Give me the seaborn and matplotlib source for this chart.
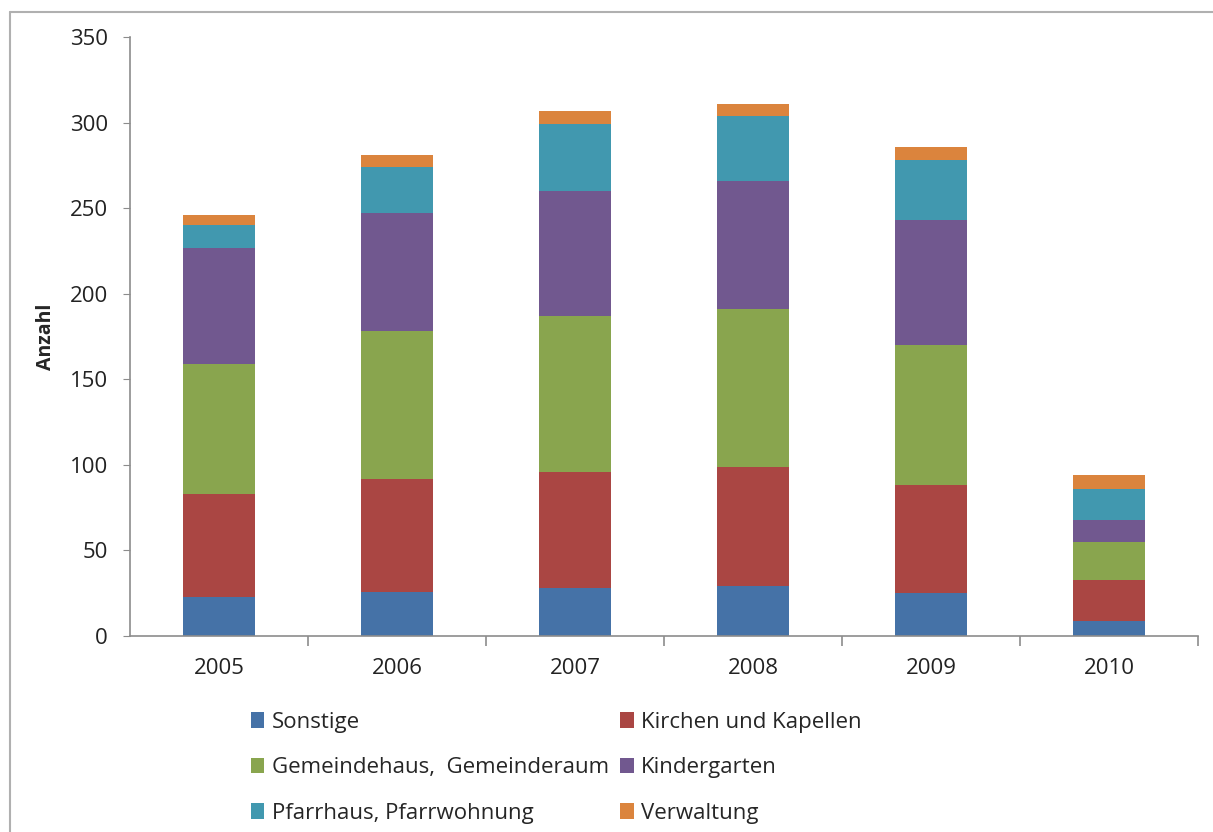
import numpy as np
import pandas as pd
import matplotlib
matplotlib.use("Agg")
import matplotlib.pyplot as plt
from matplotlib.patches import Patch
from matplotlib.lines import Line2D
import seaborn as sns

# Daten
years = ["2005", "2006", "2007", "2008", "2009", "2010"]
sonstige = [23, 26, 28, 29, 25, 9]
kirchen = [60, 66, 68, 70, 63, 24]
gemeinde = [76, 86, 91, 92, 82, 22]
kinder = [68, 69, 73, 75, 73, 13]
pfarr = [13, 27, 39, 38, 35, 18]
verwaltung = [6, 7, 8, 7, 8, 8]

series_names = ["Sonstige", "Kirchen und Kapellen", "Gemeindehaus,  Gemeinderaum",
                "Kindergarten", "Pfarrhaus, Pfarrwohnung", "Verwaltung"]
series_values = [sonstige, kirchen, gemeinde, kinder, pfarr, verwaltung]
colors = ["#4572A7", "#AA4643", "#89A54E", "#71588F", "#4198AF", "#DB843D"]

sns.set_style("white")
plt.rcParams['font.family'] = ['Open Sans', 'DejaVu Sans']

df = pd.DataFrame({"Jahr": years})
for name, vals in zip(series_names, series_values):
    df[name] = vals
cum = df[series_names].cumsum(axis=1)
cum["Jahr"] = years

fig = plt.figure(figsize=(12.13, 8.32), dpi=100)
ax = fig.add_axes([130 / 1213, 1 - 636 / 832, (1198 - 130) / 1213, (636 - 37) / 832])

# gestapelte Balken: kumulierte Summen, von oben nach unten überzeichnet
for name, col in reversed(list(zip(series_names, colors))):
    sns.barplot(data=cum, x="Jahr", y=name, color=col, width=0.4,
                saturation=1, ax=ax, linewidth=0)

ax.set_xlim(-0.5, len(years) - 0.5)
ax.set_ylim(0, 350)
ax.set_yticks(np.arange(0, 351, 50))
ax.set_xlabel("")
ax.set_ylabel("Anzahl", fontsize=14, fontweight='bold', labelpad=10)

spine_col = "#8c8c8c"
for s in ["top", "right"]:
    ax.spines[s].set_visible(False)
for s in ["left", "bottom"]:
    ax.spines[s].set_color(spine_col)
    ax.spines[s].set_linewidth(1.2)

ax.tick_params(axis='y', which='both', left=True, length=5, color=spine_col,
               labelsize=16, pad=11, labelcolor="#222222")
ax.tick_params(axis='x', which='major', bottom=False, labelsize=16, pad=12,
               labelcolor="#222222")
# Trennstriche zwischen den Kategorien
ax.set_xticks(np.arange(0.5, len(years) - 0.5 + 1, 1), minor=True)
ax.tick_params(axis='x', which='minor', bottom=True, length=7, color=spine_col, width=1.2)

handles = [Patch(facecolor=c, edgecolor='none') for c in colors]
order = [0, 2, 4, 1, 3, 5]
fig.legend([handles[i] for i in order], [series_names[i] for i in order],
           ncol=2, loc='upper left', bbox_to_anchor=(242 / 1213, 1 - 703 / 832),
           frameon=False, fontsize=16, handlelength=0.6, handleheight=0.7,
           handletextpad=0.35, columnspacing=0.5, labelspacing=1.1,
           borderaxespad=0)

# Rahmen des Diagrammbereichs
fig.add_artist(Line2D([10 / 1213, 1], [1 - 12 / 832, 1 - 12 / 832],
                      transform=fig.transFigure, color="#b0b0b0", lw=1.5))
fig.add_artist(Line2D([10 / 1213, 10 / 1213], [0, 1 - 12 / 832],
                      transform=fig.transFigure, color="#b0b0b0", lw=1.5))

fig.savefig("out.png", dpi=100)
